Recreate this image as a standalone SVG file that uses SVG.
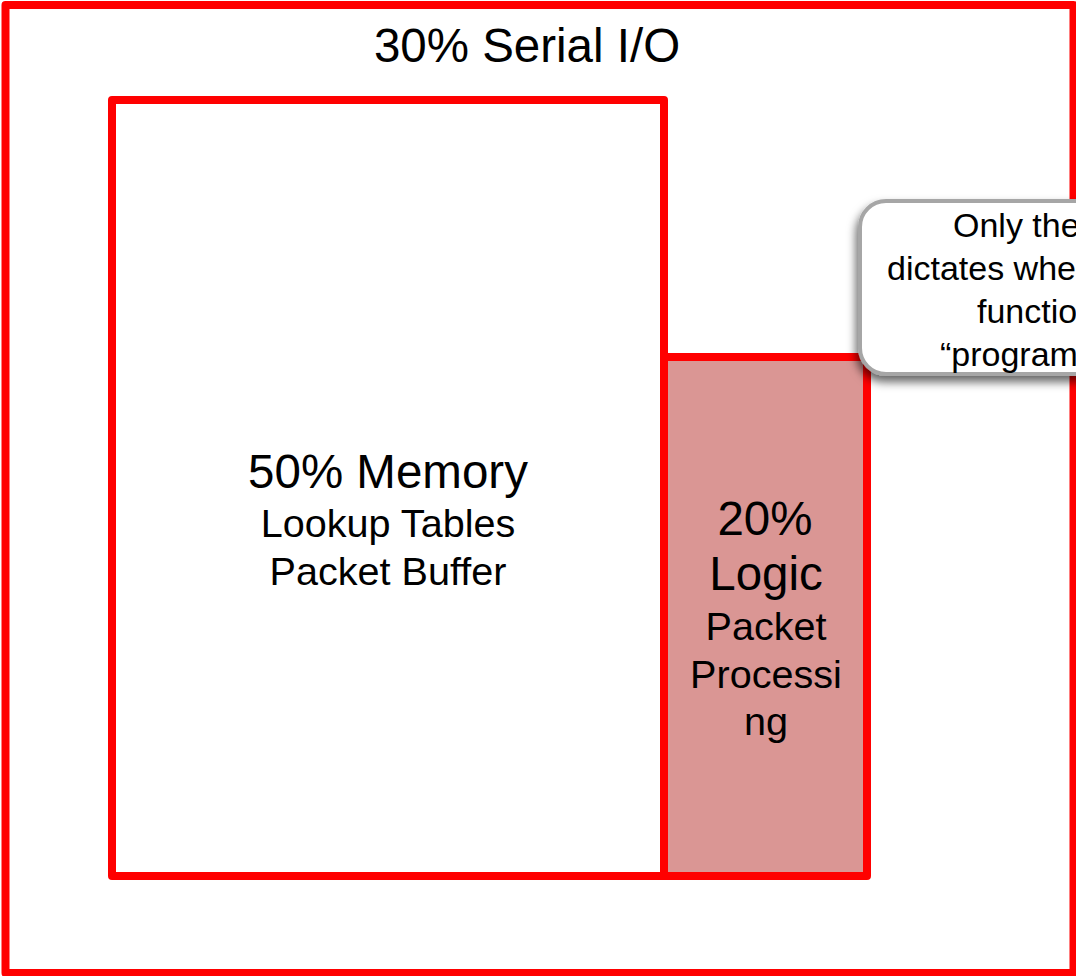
<svg xmlns="http://www.w3.org/2000/svg" width="1076" height="976" viewBox="0 0 1076 976">
<defs>
<style>
.box{stroke:#FF0000;stroke-width:8;stroke-linejoin:round}
.t{font-family:"Liberation Sans",Arial,sans-serif;fill:#000;text-anchor:middle}
.big{font-size:47.5px}
.mid{font-size:39.6px}
.call{font-family:"Liberation Sans",Arial,sans-serif;fill:#000;font-size:34px}
</style>
<filter id="sh" x="-20%" y="-20%" width="140%" height="150%">
<feDropShadow dx="-2" dy="6" stdDeviation="5" flood-color="#000" flood-opacity="0.6"/>
</filter>
</defs>
<rect width="1076" height="976" fill="#fff"/>
<g id="serial-io">
<rect class="box" x="5.5" y="5" width="1068" height="968" fill="#fff"/>
<text class="t big" x="527" y="62">30% Serial I/O</text>
</g>
<g id="memory">
<rect class="box" x="112" y="100" width="552" height="776" fill="#fff"/>
<text class="t big" x="388" y="488">50% Memory</text>
<text class="t mid" x="388" y="537">Lookup Tables</text>
<text class="t mid" x="388" y="585">Packet Buffer</text>
</g>
<g id="logic">
<rect class="box" x="664" y="357" width="203" height="519" fill="#DA9694"/>
<text class="t big" x="765" y="535">20%</text>
<text class="t big" x="766" y="590">Logic</text>
<text class="t mid" x="766" y="640">Packet</text>
<text class="t mid" x="766" y="688">Processi</text>
<text class="t mid" x="766" y="735">ng</text>
</g>
<g id="callout">
<rect x="860" y="201" width="260" height="173" rx="26" fill="#fff" stroke="#A6A6A6" stroke-width="4" filter="url(#sh)"/>
<text class="call" x="953" y="237">Only the</text>
<text class="call" x="887" y="280">dictates whe</text>
<text class="call" x="977" y="323">functio</text>
<text class="call" x="940" y="366">“program</text>
</g>
<g id="connectors"/>
</svg>
